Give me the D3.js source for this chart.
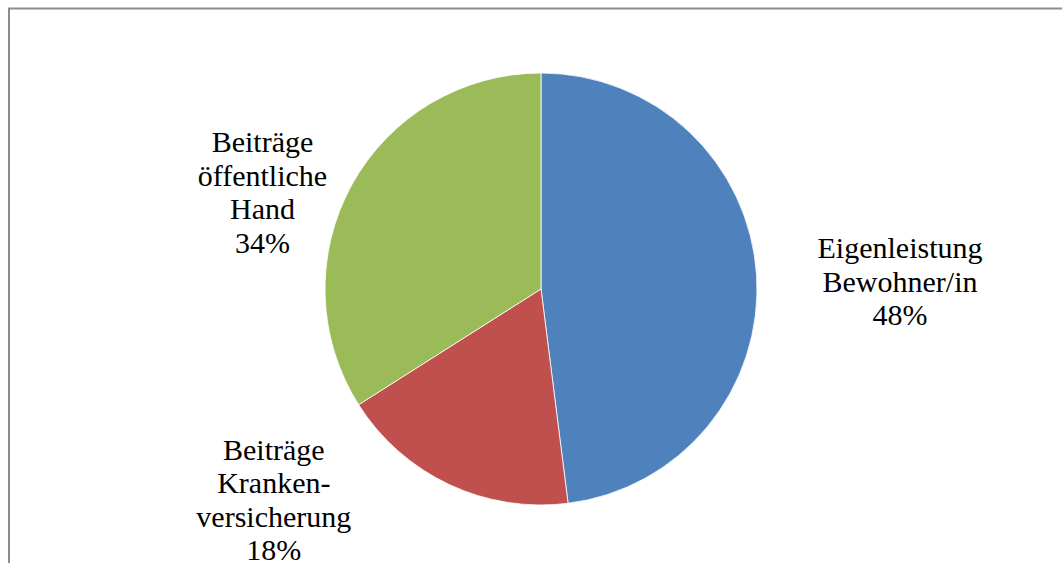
<!DOCTYPE html>
<html>
<head>
<meta charset="utf-8">
<script src="https://cdn.jsdelivr.net/npm/d3@7"></script>
<style>
  body { margin: 0; background: #fff; }
  svg { display: block; }
</style>
</head>
<body>
<svg id="chart"></svg>
<script>
// Finanzierung - Anteile
var categories = ["Eigenleistung Bewohner/in", "Beiträge Kranken-versicherung", "Beiträge öffentliche Hand"];
var labelLines = [
  ["Eigenleistung", "Bewohner/in"],
  ["Beiträge", "Kranken-", "versicherung"],
  ["Beiträge", "öffentliche", "Hand"]
];
var values = [48, 18, 34];
var colors = ["#4F81BD", "#C0504D", "#9BBB59"];

var width = 1062, height = 563;
var cx = 541, cy = 289, radius = 216;
var lineHeight = 33.5;
// label nudges relative to the centroid of the label ring
var labelNudge = [[68, 11], [-143, -53], [-23, 44]];

var svg = d3.select("#chart")
  .attr("width", width)
  .attr("height", height);

// chart frame
svg.append("rect")
  .attr("x", 9)
  .attr("y", 8.5)
  .attr("width", width + 20)
  .attr("height", height + 20)
  .attr("fill", "none")
  .attr("stroke", "#8c8c8c")
  .attr("stroke-width", 2);

var total = d3.sum(values);
var pie = d3.pie().sort(null).value(function (d) { return d; });
var arc = d3.arc().innerRadius(0).outerRadius(radius);
var labelArc = d3.arc().innerRadius(radius * 1.35).outerRadius(radius * 1.35);

var g = svg.append("g")
  .attr("transform", "translate(" + cx + "," + cy + ")");

var arcs = g.selectAll("g.arc")
  .data(pie(values))
  .enter()
  .append("g")
  .attr("class", "arc");

arcs.append("path")
  .attr("d", arc)
  .attr("fill", function (d, i) { return colors[i]; })
  .attr("stroke", "#ffffff")
  .attr("stroke-width", 0.8);

var labels = arcs.append("text")
  .attr("text-anchor", "middle")
  .style("font-family", "'Liberation Serif', serif")
  .style("font-size", "30px")
  .attr("fill", "#000")
  .attr("transform", function (d, i) {
    var c = labelArc.centroid(d);
    return "translate(" + (c[0] + labelNudge[i][0]) + "," + (c[1] + labelNudge[i][1]) + ")";
  });

labels.each(function (d, i) {
  var lines = labelLines[i].concat([Math.round(d.value / total * 100) + "%"]);
  var t = d3.select(this);
  var y0 = -(lines.length - 1) / 2 * lineHeight + 10;
  lines.forEach(function (s, k) {
    t.append("tspan")
      .attr("x", 0)
      .attr("y", y0 + k * lineHeight)
      .text(s);
  });
});
</script>
</body>
</html>
